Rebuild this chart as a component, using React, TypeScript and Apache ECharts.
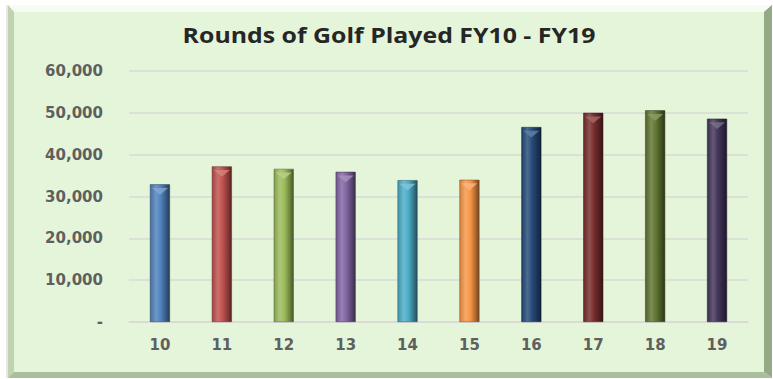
import React, { useEffect, useRef } from "react";
import * as echarts from "echarts";

const categories = ["10", "11", "12", "13", "14", "15", "16", "17", "18", "19"];
const rounds = [32900, 37200, 36600, 35900, 33900, 34000, 46600, 50000, 50600, 48600];
const barColors = ["#4F81BD", "#C0504D", "#9BBB59", "#8064A2", "#4BACC6", "#F79646", "#254A78", "#772C2A", "#5F7530", "#433559"];
const yTicks = [0, 10000, 20000, 30000, 40000, 50000, 60000];
const titleText = "Rounds of Golf Played FY10 - FY19";

function shade(hex: string, f: number): string {
  const n = parseInt(hex.slice(1), 16);
  let r = (n >> 16) & 255, g = (n >> 8) & 255, b = n & 255;
  if (f >= 0) {
    r = Math.round(r + (255 - r) * f);
    g = Math.round(g + (255 - g) * f);
    b = Math.round(b + (255 - b) * f);
  } else {
    r = Math.round(r * (1 + f));
    g = Math.round(g * (1 + f));
    b = Math.round(b * (1 + f));
  }
  return "rgb(" + r + "," + g + "," + b + ")";
}

function barGradient(c: string) {
  return new echarts.graphic.LinearGradient(0, 0, 1, 0, [
    { offset: 0, color: shade(c, -0.15) },
    { offset: 0.3, color: shade(c, 0.18) },
    { offset: 0.55, color: c },
    { offset: 0.85, color: shade(c, -0.35) },
    { offset: 1, color: shade(c, -0.55) },
  ]);
}

export default function App() {
  const ref = useRef<HTMLDivElement>(null);
  useEffect(() => {
    if (!ref.current) return;
    const chart = echarts.init(ref.current, null, { renderer: "svg" });
    const L = 8, T = 5, R = 772, B = 378, bw = 6;
    const labelFont = { fontFamily: "DejaVu Sans", fontWeight: "bold" as const, fontSize: 15, color: "#5F5F5F" };
    chart.setOption({
      animation: false,
      backgroundColor: "#ffffff",
      graphic: [
        { type: "rect", z: -10, shape: { x: L, y: T, width: R - L, height: B - T }, style: { fill: "#E4F5D9" } },
        { type: "polygon", z: -9, shape: { points: [[L, T], [R, T], [R - bw - 2, T + bw + 1], [L + bw, T + bw + 1]] }, style: { fill: "#F6FCF1" } },
        { type: "polygon", z: -9, shape: { points: [[L, T], [L + bw, T + bw + 1], [L + bw, B - bw], [L, B]] }, style: { fill: "#BFD3B0" } },
        { type: "polygon", z: -9, shape: { points: [[R, T], [R, B], [R - bw - 2, B - bw], [R - bw - 2, T + bw + 1]] }, style: { fill: "#94AA85" } },
        { type: "polygon", z: -9, shape: { points: [[L, B], [R, B], [R - bw - 2, B - bw], [L + bw, B - bw]] }, style: { fill: "#A9BE9A" } },
        { type: "line", z: -9, shape: { x1: L - 1, y1: T, x2: L - 1, y2: B }, style: { stroke: "#D0D0D0", lineWidth: 1 } },
        {
          type: "group",
          x: 389,
          y: 35,
          scaleX: 1.13,
          children: [
            {
              type: "text",
              x: 0,
              y: 0,
              style: {
                text: titleText,
                fontFamily: "Open Sans",
                fontWeight: "bold",
                fontSize: 22,
                fill: "#262626",
                textAlign: "center",
                textVerticalAlign: "middle",
              },
            },
          ],
        },
      ],
      grid: { left: 129, right: 25, top: 71, bottom: 57, containLabel: false },
      xAxis: {
        type: "category",
        data: categories,
        axisLine: { lineStyle: { color: "#D9D9D9", width: 1.5 } },
        axisTick: { show: false },
        axisLabel: { margin: 15, ...labelFont },
      },
      yAxis: {
        type: "value",
        min: 0,
        max: 60000,
        interval: 10000,
        axisLine: { show: false },
        axisTick: { show: false },
        splitLine: { lineStyle: { color: "#D9D9D9", width: 1.5 } },
        axisLabel: {
          margin: 26,
          ...labelFont,
          formatter: (v: number) => (yTicks.includes(v) && v === 0 ? "-" : v.toLocaleString("en-US")),
        },
      },
      series: [
        {
          type: "bar",
          barWidth: 20,
          data: rounds.map((v, i) => ({
            value: v,
            itemStyle: { color: barGradient(barColors[i]), borderColor: shade(barColors[i], -0.5), borderWidth: 0.5 },
          })),
        },
        {
          type: "pictorialBar",
          symbol: "triangle",
          symbolRotate: 180,
          symbolSize: [16, 7],
          symbolPosition: "end",
          symbolOffset: [0, "50%"],
          silent: true,
          z: 3,
          data: rounds.map((v, i) => ({
            value: v,
            itemStyle: { color: shade(barColors[i], 0.3), opacity: 0.8 },
          })),
        },
      ],
    });
    return () => chart.dispose();
  }, []);
  return <div ref={ref} style={{ position: "absolute", left: 0, top: 0, width: 773, height: 379 }} />;
}
